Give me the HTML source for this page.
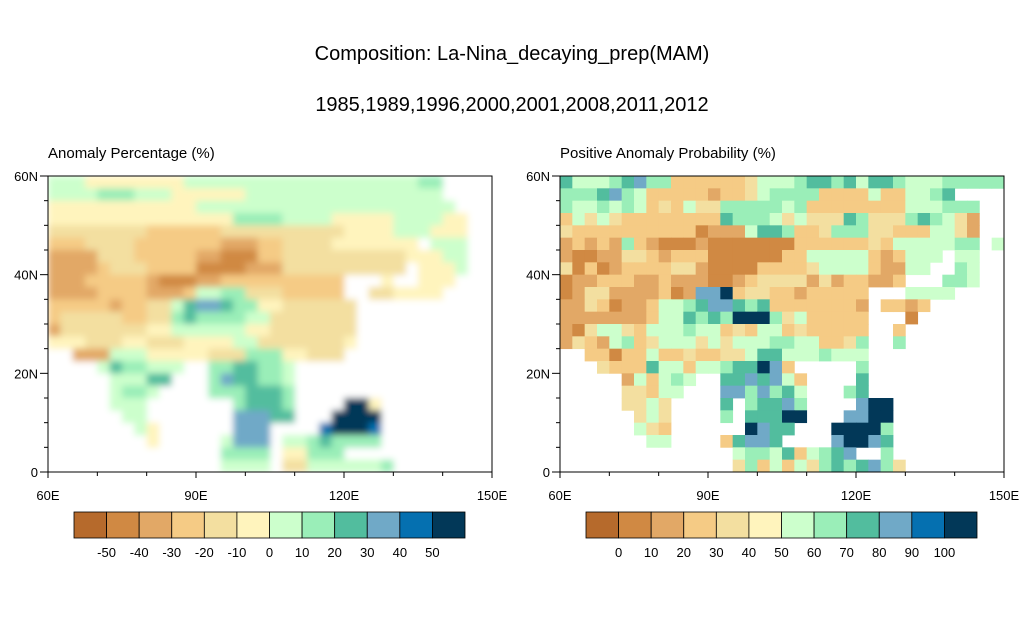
<!DOCTYPE html>
<html><head><meta charset="utf-8"><style>
body{margin:0;background:#fff;width:1024px;height:624px;overflow:hidden;font-family:"Liberation Sans",sans-serif}
svg text{font-family:"Liberation Sans",sans-serif}
</style></head><body>
<svg id="fig" width="1024" height="624" viewBox="0 0 1024 624" xmlns="http://www.w3.org/2000/svg">
<defs>
<filter id="smooth" x="0" y="0" width="1" height="1"><feGaussianBlur stdDeviation="3.5"/></filter>
<clipPath id="clipL"><rect x="48" y="176" width="444" height="296"/></clipPath>
<clipPath id="clipR"><rect x="560" y="176" width="444" height="296"/></clipPath>
</defs>
<text x="512" y="60" font-size="20" text-anchor="middle">Composition: La-Nina_decaying_prep(MAM)</text>
<text x="512" y="111" font-size="20" text-anchor="middle">1985,1989,1996,2000,2001,2008,2011,2012</text>
<text x="48" y="158" font-size="15">Anomaly Percentage (%)</text>
<text x="560" y="158" font-size="15">Positive Anomaly Probability (%)</text>
<g id="left"></g>
<g id="right"></g>
</svg>
<script>
const colors=["#b66a2c","#d08943","#e2a866","#f5cb85","#f3dfa0","#fff4bd","#ccffcc","#9aeeb8","#52bd9e","#70a9c7","#0570b0","#023858"];
const levelsLeft=["-50","-40","-30","-20","-10","0","10","20","30","40","50"];
const levelsRight=["0","10","20","30","40","50","60","70","80","90","100"];
const lonTicks=["60E","90E","120E","150E"];
const latTicks=["60N","40N","20N","0"];
// run-length rows (level-code x count), 2.5 degree cells from 60N southward, 60E eastward
const gridLeft=[
"6x3 5x8 6x19 7x2 .x4",
"6x4 7x3 6x3 5x6 6x16 .x4",
"5x12 6x21 .x3",
"5x15 7x4 6x4 5x5 6x4 5x2 .x2",
"4x8 3x6 4x10 5x4 6x3 5x3 .x2",
"3x3 4x4 3x7 2x3 3x2 4x4 5x7 .x1 6x3 .x2",
"2x4 4x3 3x5 2x2 1x3 3x2 4x10 5x3 6x2 .x2",
"2x4 3x1 4x3 3x4 1x4 2x3 4x10 .x1 5x3 6x1 .x2",
"2x3 3x5 2x1 1x3 2x2 3x10 .x3 5x1 .x2 5x3 .x3",
"2x4 3x4 2x3 3x1 6x2 7x2 4x3 3x5 .x2 4x2 5x4 .x4",
"3x5 2x1 3x2 4x2 6x1 8x1 9x2 8x1 7x2 5x2 4x6 .x11",
"3x1 4x5 3x2 4x2 7x1 8x1 7x4 6x2 4x7 .x11",
"2x1 4x7 5x2 6x6 5x2 4x7 .x11",
"5x3 4x3 5x2 4x3 5x4 6x2 4x7 5x1 .x11",
".x2 2x3 6x3 5x5 4x3 7x3 5x2 4x3 .x12",
".x4 6x1 8x1 7x2 6x3 .x2 7x2 8x2 7x2 6x1 .x16",
".x5 6x3 8x2 .x3 7x1 9x1 8x2 7x2 6x1 .x16",
".x5 6x1 7x2 6x1 .x4 7x3 8x3 7x1 .x16",
".x5 6x3 .x7 7x1 8x3 7x1 .x4 bx2 5x1 .x9",
".x6 6x2 .x7 9x3 8x2 .x3 bx4 .x9",
".x7 6x1 5x1 .x6 9x3 .x4 ax1 bx3 ax1 .x9",
".x8 5x1 .x5 6x1 9x3 .x1 6x2 7x1 8x1 7x4 .x9",
".x14 7x4 .x1 5x2 7x3 .x12",
".x14 6x4 .x1 4x2 6x6 7x1 .x8"
];
const gridRight=[
"8x1 6x3 7x1 8x1 9x1 7x2 3x6 4x1 6x3 7x1 8x2 7x1 8x1 6x1 8x2 7x1 6x3 7x5",
"7x3 8x1 9x1 7x1 6x1 3x5 2x1 3x2 4x1 6x1 7x4 3x4 6x1 3x2 6x2 7x1 8x1 .x4",
"7x1 6x2 7x1 6x1 7x1 6x1 3x1 4x1 3x1 6x1 4x2 7x5 6x1 7x1 3x8 6x3 7x3 .x2",
"3x1 6x1 4x1 6x1 4x1 3x8 8x1 7x3 6x1 4x1 6x1 4x3 8x1 7x1 4x3 7x1 8x1 7x1 6x1 4x1 2x1 .x2",
"4x1 3x10 1x1 2x3 6x1 8x2 7x1 3x2 4x1 7x3 4x2 3x3 6x2 4x1 2x1 .x2",
"2x1 3x1 2x1 3x1 2x1 7x1 3x1 2x1 1x3 2x1 1x7 3x6 4x1 3x1 6x5 7x2 .x1 6x1",
"2x1 1x2 2x2 4x2 3x1 2x1 3x3 1x6 3x2 6x5 3x1 2x1 3x1 6x3 .x1 6x2 .x2",
"4x1 1x1 3x1 1x1 2x1 3x4 4x2 2x1 1x4 3x4 4x1 6x4 3x1 2x2 6x2 .x2 7x1 6x1 .x2",
"1x1 2x2 3x3 2x2 3x1 2x3 1x2 2x1 3x1 4x4 2x1 4x1 2x1 3x2 2x2 3x1 .x3 7x2 6x1 .x2",
"1x1 2x1 4x2 2x4 3x1 1x1 2x1 9x2 bx1 3x1 4x2 3x2 2x1 3x5 .x3 6x4 .x4",
"2x2 4x1 3x1 1x1 2x2 3x1 6x2 7x1 8x1 9x2 8x1 7x1 8x1 3x7 2x1 .x1 3x2 2x1 3x1 .x6",
"2x7 3x1 6x2 8x1 7x1 8x1 7x1 bx3 7x1 4x1 6x1 3x5 .x3 1x1 .x7",
"2x1 1x1 4x1 6x2 4x1 3x1 6x3 7x1 6x2 3x1 4x1 3x1 6x2 3x1 4x1 3x5 .x2 3x1 .x8",
"2x1 4x1 3x1 2x1 6x1 7x1 3x1 4x1 6x3 4x1 6x1 4x1 6x3 7x2 6x2 3x2 4x1 7x1 .x2 7x1 .x8",
".x2 3x2 1x1 3x2 6x1 3x2 4x1 3x2 4x2 6x1 8x2 6x3 7x1 6x3 .x11",
".x3 4x1 3x3 8x1 6x2 3x1 6x2 7x1 8x2 bx1 9x1 3x1 .x5 7x1 .x11",
".x5 2x1 6x1 3x1 6x1 7x1 6x1 .x2 8x2 9x1 8x1 9x1 6x1 3x1 .x4 8x1 .x11",
".x5 4x2 3x1 6x2 .x3 9x2 7x1 9x1 7x1 8x1 6x1 .x3 7x1 8x1 .x11",
".x5 4x2 6x1 4x1 .x4 8x1 .x1 7x1 8x2 9x1 7x1 .x4 9x1 bx2 .x9",
".x6 4x1 6x1 4x1 .x4 7x1 .x1 8x3 bx2 .x3 9x2 bx2 .x9",
".x6 6x1 4x1 3x1 .x6 bx1 9x1 8x2 .x3 bx4 7x1 .x9",
".x7 6x2 .x4 3x1 8x1 9x2 8x1 .x4 9x1 bx2 9x1 8x1 .x9",
".x14 6x1 7x2 6x1 8x1 3x1 6x1 7x1 8x1 9x1 .x2 7x1 .x9",
".x14 4x1 7x1 3x1 6x1 3x1 6x1 4x1 7x1 8x1 7x1 8x1 9x1 7x1 4x1 .x8"
];
function expand(row){let s="";row.trim().split(/\s+/).forEach(t=>{const [ch,n]=t.split("x");s+=ch.repeat(+n);});return (s+".".repeat(36)).slice(0,36);}

const NS="http://www.w3.org/2000/svg";
function mk(tag,attrs,parent){const e=document.createElementNS(NS,tag);for(const k in attrs)e.setAttribute(k,attrs[k]);parent.appendChild(e);return e;}
function xScale(x0,lon){return x0+(lon-60)/90*444;}
function yScale(lat){return 472-lat/60*296;}
function colorOf(ch){return colors[parseInt(ch,16)];}

function drawPanel(g,x0,gridRle,clipId,blur,levels,cbx){
  const grid=gridRle.map(expand);
  const cells=mk('g',{'clip-path':'url(#'+clipId+')'},g);
  
  
  const inner=mk('g',blur?{filter:'url(#smooth)'}:{},cells);
  mk('rect',{x:x0,y:176,width:444,height:296,fill:'#fff'},inner);
  grid.forEach((row,r)=>{
    for(let c=0;c<36;c++){
      const ch=row[c];if(ch==='.')continue;
      const lon=60+c*2.5,lat=60-r*2.5;
      const x=xScale(x0,lon),y=yScale(lat);
      const rc=mk('rect',{x:x.toFixed(2),y:y.toFixed(2),width:(444/36+0.4).toFixed(2),height:(296/24+0.4).toFixed(2),fill:colorOf(ch)},inner);
      
      
    }
  });
  const fr=mk('rect',{x:x0,y:176,width:444,height:296,fill:'none',stroke:'#000','stroke-width':1},g);
  
  
  for(let lat=0;lat<=60;lat+=5){
    const y=yScale(lat),major=lat%20===0;
    mk('line',{x1:x0,x2:x0-(major?8:4),y1:y,y2:y,stroke:'#000','stroke-width':1},g);
  }
  latTicks.forEach((t,i)=>{
    const lat=60-i*20;
    const tx=mk('text',{x:x0-10,y:yScale(lat)+5,'font-size':13,'text-anchor':'end'},g);
    tx.textContent=t;
    
    
  });
  for(let lon=60;lon<=150;lon+=10){
    const x=xScale(x0,lon),major=(lon%30===0);
    mk('line',{x1:x,x2:x,y1:472,y2:472+(major?6:4),stroke:'#000','stroke-width':1},g);
  }
  lonTicks.forEach((t,i)=>{
    const tx=mk('text',{x:xScale(x0,60+i*30),y:500,'font-size':13,'text-anchor':'middle'},g);
    tx.textContent=t;
    
    
  });
  const cb=mk('g',{},g);
  
  
  const w=391/12;
  colors.forEach((col,i)=>{
    const b=mk('rect',{x:(cbx+i*w).toFixed(2),y:512,width:w.toFixed(2),height:26,fill:col,stroke:'#000','stroke-width':0.8},cb);
    
    
  });
  levels.forEach((l,i)=>{
    const tx=mk('text',{x:(cbx+(i+1)*w).toFixed(2),y:557,'font-size':13,'text-anchor':'middle'},cb);
    tx.textContent=l;
    
    
  });
}
drawPanel(document.getElementById('left'),48,gridLeft,'clipL',true,levelsLeft,74);
drawPanel(document.getElementById('right'),560,gridRight,'clipR',false,levelsRight,586);
</script>
</body></html>
